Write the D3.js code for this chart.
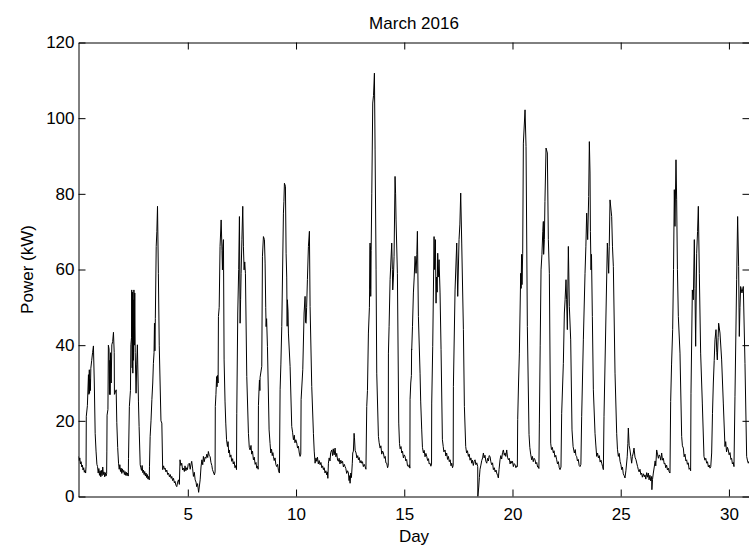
<!DOCTYPE html>
<html>
<head>
<meta charset="utf-8">
<script src="https://cdn.jsdelivr.net/npm/d3@7"></script>
<style>
  html, body { margin: 0; padding: 0; background: #fff; }
  svg { display: block; }
  text { font-family: "Liberation Sans", Arial, Helvetica, sans-serif; fill: #000; }
</style>
</head>
<body>
<svg id="chart" width="749" height="552"></svg>
<script>
// ---- Data: [day, kW] ----
const chartTitle = "March 2016";
const xLabel = "Day";
const yLabel = "Power (kW)";
const xTicks = [5, 10, 15, 20, 25, 30];
const yTicks = [0, 20, 40, 60, 80, 100, 120];
const xDomain = [-0.05, 30.95];
const yDomain = [0, 120];

const week1 = [
[-0.05,10.6],[-0.02,9.5],[0.01,10.2],[0.04,8.6],[0.07,9.2],[0.1,7.8],[0.13,8.3],[0.16,7.0],[0.19,7.6],[0.22,6.4],[0.25,6.9],[0.28,6.2],
[0.30,8],[0.31,21.2],[0.36,24],[0.41,32.2],[0.43,27],[0.45,33.5],[0.46,27.3],[0.48,31],[0.5,28],[0.52,33.9],[0.56,36],[0.6,38],[0.64,39.8],[0.68,30],[0.72,16.7],[0.76,12],[0.8,8.5],[0.83,7.9],
[0.86,6.2],[0.89,7.4],[0.92,5.6],[0.95,6.8],[0.98,5.2],[1.01,6.9],[1.04,5.5],[1.07,7.8],[1.1,5.8],[1.13,6.5],[1.16,5.2],[1.19,6.3],[1.22,5.4],[1.25,6.0],
[1.26,12],[1.27,21.5],[1.31,23],[1.33,40],[1.36,39],[1.38,27],[1.40,36],[1.41,26.9],[1.43,38],[1.46,30],[1.49,40.1],[1.53,41],[1.565,43.4],[1.6,38],[1.61,27],[1.65,27.5],[1.69,28.2],[1.72,19.5],[1.76,13],[1.8,8.8],
[1.83,7.2],[1.86,8.4],[1.89,6.6],[1.92,7.5],[1.95,6.1],[1.98,7.3],[2.01,6.4],[2.04,6.9],[2.07,5.8],[2.1,6.6],[2.13,5.6],[2.16,6.4],[2.19,5.5],[2.22,6.2],[2.25,5.4],
[2.26,10],[2.30,23.8],[2.35,28],[2.37,40.1],[2.40,42],[2.41,54.6],[2.43,34],[2.44,54],[2.46,32.6],[2.47,52],[2.49,36],[2.51,54.6],[2.53,40],[2.55,53.8],[2.57,38],[2.6,30],[2.61,27.3],[2.64,35],[2.67,40.1],[2.72,25],[2.75,18.5],[2.8,8.4],
[2.83,7.6],[2.86,6.9],[2.89,8.2],[2.92,6.3],[2.95,7.0],[2.98,5.8],[3.01,6.6],[3.04,5.4],[3.07,6.2],[3.1,5.0],[3.13,5.8],[3.16,4.6],[3.19,5.3],[3.22,4.4],
[3.23,8],[3.26,15.9],[3.3,20],[3.34,25.6],[3.38,30],[3.41,35.2],[3.44,38],[3.46,45.8],[3.48,38.5],[3.5,47],[3.54,66.1],[3.57,70],[3.6,76.7],[3.64,59],[3.68,40],[3.72,30],[3.76,20],[3.8,19.4],[3.84,7.1]
];

const weekend1 = [
[3.88,8.1],[3.92,7.2],[3.95,7.5],[3.99,6.5],[4.03,7.0],[4.07,5.8],[4.11,6.2],[4.15,5.2],[4.19,5.8],[4.23,4.8],[4.26,5.3],[4.3,4.2],[4.34,4.8],[4.38,3.6],[4.41,4.0],[4.45,3.0],[4.49,2.6],[4.53,3.8],[4.57,4.4],[4.61,3.2],[4.64,9.7],[4.68,8.2],[4.72,8.8],[4.76,7.0],[4.8,7.5],[4.84,6.6],[4.87,8.1],[4.91,6.8],[4.95,7.6],[4.98,7.1],[5.02,8.5],[5.07,8.8],[5.11,7.2],[5.15,8.6],[5.18,9.3],[5.22,7.5],[5.26,5.3],[5.3,6.4],[5.34,4.4],[5.38,3.8],[5.41,2.6],[5.45,3.4],[5.5,1.1],[5.53,2.5],[5.57,4.4],[5.61,7.8],[5.65,9.7],[5.69,8.4],[5.72,10.6],[5.76,9.2],[5.8,10.4],[5.84,10.1],[5.88,11.2],[5.92,10.3],[5.95,11.9],[5.99,10.8],[6.03,10.6],[6.07,9.0],[6.11,8.2],[6.14,7.1],[6.18,6.5],[6.23,5.7],[6.26,6.5]
];

const week2 = [
[6.27,23.8],[6.3,27],[6.33,31.7],[6.35,29],[6.37,32],[6.4,30],[6.415,47.6],[6.45,50],[6.49,66.1],[6.54,73.1],[6.58,65],[6.6,59.9],[6.62,66],[6.646,67.9],[6.677,36.1],[6.72,25],[6.754,19.4],[6.79,15],[6.831,13.2],[6.86,14.5],[6.89,11.5],[6.92,12.3],[6.95,10.4],[6.99,11],[7.03,9.3],[7.07,10],[7.1,8.6],[7.14,9.2],[7.18,7.6],[7.22,8.2],[7.25,7.1],
[7.262,22],[7.308,48.5],[7.35,60],[7.385,74],[7.416,45.8],[7.44,52],[7.462,59],[7.5,68],[7.539,76.7],[7.57,66],[7.601,59.9],[7.63,62],[7.662,59],[7.724,31.7],[7.801,16.7],[7.84,13],[7.878,12.3],[7.92,13.5],[7.95,11.2],[7.99,12],[8.03,9.7],[8.07,10.4],[8.11,8.5],[8.15,9.0],[8.186,7.5],[8.22,8.0],[8.25,7.2],
[8.263,24],[8.29,28.2],[8.31,30.8],[8.33,28],[8.34,31.5],[8.417,34.4],[8.448,63.5],[8.494,68.7],[8.54,67.9],[8.571,61.7],[8.6,50],[8.617,44.9],[8.64,47],[8.679,39.7],[8.756,17.6],[8.8,14],[8.833,11.5],[8.87,12.5],[8.9,10.8],[8.93,11.6],[8.956,10.6],[8.99,9.5],[9.03,10.2],[9.07,8.4],[9.11,7.9],[9.15,8.5],[9.19,6.8],[9.233,6.2],
[9.264,28.2],[9.3,35],[9.341,44.9],[9.418,74.9],[9.44,78],[9.464,82.8],[9.51,82],[9.541,64.3],[9.57,58],[9.59,45],[9.602,52],[9.61,51],[9.63,49],[9.649,43.2],[9.725,34.4],[9.802,18.5],[9.84,17],[9.88,15],[9.92,16.2],[9.95,14.2],[9.99,15],[10.034,14.1],[10.07,12.8],[10.11,13.3],[10.15,11.5],[10.187,10.6],[10.22,11.2],
[10.234,25.6],[10.311,33.5],[10.372,48.5],[10.418,52.9],[10.44,46],[10.465,45.8],[10.49,50],[10.526,57.3],[10.572,66.1],[10.618,70.1],[10.649,50.2],[10.726,29.1],[10.803,16.7],[10.84,12],[10.88,8.8]
];

const weekend2 = [
[10.92,10.2],[10.957,9.3],[10.99,10.4],[11.03,8.6],[11.07,9.5],[11.111,8.4],[11.15,9.0],[11.19,7.6],[11.23,8.1],[11.265,7.1],[11.3,7.6],[11.34,6.2],[11.38,6.8],[11.419,5.7],[11.45,6.5],[11.47,4.8],[11.496,8.8],[11.53,10.2],[11.57,9.4],[11.6,11.6],[11.65,12.3],[11.69,10.8],[11.72,12.6],[11.76,11.0],[11.804,12.8],[11.84,10.5],[11.88,11.4],[11.92,9.6],[11.958,9.3],[11.99,10.1],[12.03,8.6],[12.07,9.6],[12.112,8.8],[12.15,9.3],[12.19,7.8],[12.23,8.5],[12.266,7.9],[12.3,7.4],[12.34,6.1],[12.38,6.8],[12.42,6.2],[12.45,4.2],[12.47,5.5],[12.497,3.5],[12.53,6.2],[12.56,5.0],[12.6,8.8],[12.62,11.5],[12.65,12],[12.682,16.7],[12.7,15.5],[12.73,12.2],[12.774,11.5],[12.81,10.2],[12.85,10.8],[12.882,9.7],[12.92,10.3],[12.96,8.9],[13.0,9.5],[13.036,8.8],[13.07,9.2],[13.11,7.9],[13.15,8.5],[13.19,7.9],[13.23,7.2]
];

const week3 = [
[13.267,23.8],[13.3,28],[13.344,43.2],[13.39,50],[13.421,67],[13.43,55],[13.44,66],[13.451,52.9],[13.47,65],[13.5,80],[13.544,104],[13.58,106],[13.621,111.9],[13.652,91.6],[13.698,59.9],[13.729,32.6],[13.806,15.9],[13.84,14.2],[13.883,12.8],[13.92,13.4],[13.96,11.2],[14.0,12],[14.037,11.5],[14.08,10.1],[14.12,10.6],[14.15,8.9],[14.19,8.8],[14.23,7.6],[14.26,8.2],
[14.268,37.9],[14.3,45],[14.345,57.3],[14.421,67],[14.45,60],[14.468,54.6],[14.5,58],[14.529,63.5],[14.575,84.6],[14.6,80],[14.621,73.1],[14.683,59],[14.745,19.4],[14.78,14],[14.81,12.6],[14.85,13.2],[14.883,11.5],[14.92,12],[14.96,10.2],[15.0,11],[15.037,10.6],[15.07,9.4],[15.11,9.8],[15.15,8.1],[15.191,7.9],[15.23,8.4],[15.26,7.5],
[15.268,25.6],[15.3,30],[15.33,32],[15.34,39],[15.345,38.8],[15.38,45],[15.422,53.8],[15.46,58],[15.499,63.5],[15.545,59],[15.58,64],[15.607,70.1],[15.653,47.6],[15.73,32.6],[15.76,25],[15.807,17.6],[15.84,13],[15.884,11.5],[15.92,12.2],[15.96,10.5],[16.0,11.4],[16.038,10.6],[16.08,9.5],[16.12,10],[16.15,8.6],[16.192,8.8],[16.23,8.0],[16.26,8.6],
[16.269,24.7],[16.315,39.7],[16.377,68.7],[16.4,60],[16.438,67.9],[16.469,51.1],[16.49,58],[16.52,54],[16.546,64.3],[16.57,58],[16.608,62.6],[16.654,53.8],[16.7,38.8],[16.762,15],[16.8,13.2],[16.83,11.8],[16.885,12.3],[16.92,10.7],[16.96,11.5],[17.0,9.8],[17.039,10.6],[17.08,9.2],[17.12,9.7],[17.16,8.1],[17.193,8.8],[17.23,7.6],[17.26,8.2],
[17.27,29.1],[17.347,54.6],[17.424,67],[17.47,52.9],[17.531,67.9],[17.57,72],[17.608,80.2],[17.655,67],[17.732,44.1],[17.778,23.8],[17.839,13.2],[17.88,11.5],[17.92,12.1],[17.963,10.6],[18.0,11.2]
];

const weekend3 = [
[18.04,9.6],[18.08,10.2],[18.117,8.8],[18.15,9.6],[18.19,8.2],[18.23,9.3],[18.271,9.7],[18.31,8.4],[18.35,8.9],[18.394,7.9],[18.40,0],[18.44,2.5],[18.47,5.0],[18.5,7.2],[18.54,8.3],[18.58,9.5],[18.62,10.2],[18.656,11.5],[18.69,10.2],[18.73,10.9],[18.77,9.3],[18.809,8.8],[18.85,10.1],[18.89,9.4],[18.92,10.8],[18.963,10.6],[19.0,9.2],[19.04,8.4],[19.08,8.9],[19.117,7.1],[19.16,7.6],[19.2,6.5],[19.24,7.0],[19.271,6.2],[19.31,5.6],[19.348,4.9],[19.38,7.2],[19.425,9.7],[19.46,10.8],[19.5,9.9],[19.54,11.6],[19.579,12.3],[19.62,10.9],[19.656,11.5],[19.69,10.6],[19.733,12.3],[19.77,10.4],[19.81,9.7],[19.85,10.1],[19.89,8.6],[19.93,9.4],[19.964,8.8],[20.0,9.3],[20.04,7.9],[20.08,8.7],[20.118,8.4],[20.16,7.6],[20.19,8.1],[20.225,7.9]
];

const week4 = [
[20.241,20.3],[20.28,30],[20.318,37.9],[20.379,59],[20.4,55],[20.42,64],[20.44,56],[20.472,64.3],[20.503,93.4],[20.58,102.2],[20.626,92.5],[20.687,44.9],[20.764,16.4],[20.8,13],[20.84,11.2],[20.887,9.7],[20.92,10.6],[20.96,9.2],[21.0,10.1],[21.041,9.7],[21.08,8.6],[21.12,9.0],[21.16,7.8],[21.195,7.9],[21.22,7.4],
[21.242,19.4],[21.28,40],[21.319,59.9],[21.36,64],[21.4,70],[21.426,72.7],[21.44,64],[21.473,67.9],[21.5,78],[21.55,92.1],[21.611,90.8],[21.657,67.9],[21.703,59],[21.765,14.1],[21.8,12.4],[21.84,13],[21.888,11.5],[21.92,12.1],[21.96,10.4],[22.0,10.9],[22.042,9.7],[22.08,8.6],[22.12,9.2],[22.16,7.6],[22.196,7.1],[22.24,7.8],
[22.273,22],[22.35,35.2],[22.396,48.5],[22.43,52],[22.473,57.3],[22.5,52],[22.535,44.1],[22.581,66.1],[22.627,50.2],[22.689,41.4],[22.75,17.6],[22.8,13.2],[22.858,11.5],[22.9,12.4],[22.93,10.8],[22.966,10.6],[23.0,9.4],[23.04,9.8],[23.08,8.2],[23.12,7.9],[23.16,8.5],
[23.197,21.2],[23.274,41.4],[23.351,59],[23.39,66],[23.428,74.9],[23.474,67.9],[23.52,79.3],[23.551,93.8],[23.582,85.5],[23.6,70],[23.628,59.9],[23.65,64],[23.69,47.6],[23.736,28.2],[23.813,16.7],[23.85,13.6],[23.89,10.6],[23.93,11.5],[23.97,10.2],[24.01,10.8],[24.05,9.1],[24.09,9.6],[24.121,8.8],[24.16,8.0],[24.198,7.1],
[24.228,21.2],[24.321,48.5],[24.383,67],[24.444,59],[24.47,66],[24.506,78.4],[24.583,74],[24.62,66],[24.66,60.8],[24.737,32.6],[24.814,16.7],[24.85,12.5],[24.891,10.6],[24.93,11.4],[24.97,9.3],[25.01,8.4],[25.045,7.1],[25.08,7.8],[25.12,6.0],[25.16,5.5],[25.198,4.9],[25.24,6.8]
];

const weekend4 = [
[25.3,10.5],[25.33,14],[25.352,18.1],[25.39,13.5],[25.429,12.3],[25.47,10.5],[25.506,8.8],[25.54,10.6],[25.58,11.5],[25.614,12.8],[25.66,10.4],[25.707,9.7],[25.75,8.6],[25.78,7.9],[25.814,7.1],[25.85,6.5],[25.89,7.2],[25.93,5.8],[25.968,6.2],[26.0,5.1],[26.05,6.0],[26.09,5.2],[26.122,5.7],[26.16,4.6],[26.2,6.3],[26.24,5.1],[26.276,6.2],[26.31,4.4],[26.35,5.6],[26.39,4.1],[26.43,5.3],[26.44,1.8],[26.47,4.5],[26.507,6.2],[26.55,7.8],[26.59,9.4],[26.62,8.1],[26.661,12.3],[26.7,11.2],[26.74,10.1],[26.78,11.0],[26.815,10.6],[26.85,9.6],[26.892,11.5],[26.93,9.6],[26.97,10.1],[27.01,8.6],[27.046,8.8],[27.08,7.6],[27.12,8.3],[27.16,7.0],[27.2,7.5],[27.24,6.5],[27.277,6.2]
];

const week5 = [
[27.308,25.1],[27.35,35],[27.4,44.1],[27.44,60],[27.477,81.1],[27.508,71.4],[27.554,89],[27.585,78.4],[27.62,60],[27.662,47.6],[27.739,37.9],[27.816,15.9],[27.85,13.4],[27.893,12.8],[27.93,10.5],[27.97,11.2],[28.01,9.4],[28.047,9.7],[28.08,8.5],[28.12,8.9],[28.16,7.2],[28.201,7.5],[28.23,6.8],
[28.247,27.3],[28.309,54.6],[28.355,52],[28.401,67.9],[28.43,55],[28.463,39.7],[28.509,64.3],[28.55,70],[28.586,76.7],[28.632,59],[28.693,37.9],[28.77,24.7],[28.847,10.6],[28.89,9.6],[28.93,10.1],[28.97,8.8],[29.01,9.2],[29.05,7.8],[29.09,8.3],[29.125,7.5],[29.16,7.9],
[29.202,11.5],[29.24,22],[29.279,30],[29.32,36],[29.356,41.4],[29.402,44.1],[29.44,38],[29.463,36.1],[29.5,42],[29.525,45.8],[29.587,43.2],[29.663,36.1],[29.74,24.7],[29.817,13.2],[29.85,14.5],[29.89,11.8],[29.93,13.0],[29.971,12.3],[30.01,11.0],[30.05,11.6],[30.09,9.8],[30.125,10.1],[30.16,8.6],[30.2,9.0],[30.233,7.9],
[30.279,26.5],[30.356,57.3],[30.402,74],[30.448,60.8],[30.479,42.3],[30.51,50],[30.541,55.5],[30.602,53.8],[30.664,55.5],[30.741,35.2],[30.818,10.6],[30.86,9.4],[30.895,8.8],[30.95,9.5]
];

const series = [].concat(week1, weekend1, week2, weekend2, week3, weekend3, week4, weekend4, week5);

// ---- Layout ----
const svg = d3.select("#chart");
const L = 78.5, R = 749.5, T = 42.5, B = 496.5;
const FS = 17;

const x = d3.scaleLinear().domain(xDomain).range([L, R]);
const y = d3.scaleLinear().domain(yDomain).range([B, T]);

svg.append("defs").append("clipPath").attr("id", "clip")
  .append("rect").attr("x", L).attr("y", T).attr("width", R - L).attr("height", B - T);

// data line
const line = d3.line().x(d => x(d[0])).y(d => y(d[1]));
svg.append("path")
  .datum(series)
  .attr("clip-path", "url(#clip)")
  .attr("fill", "none")
  .attr("stroke", "#000")
  .attr("stroke-width", 1)
  .attr("stroke-linejoin", "round")
  .attr("d", line);

function styleAxis(g) {
  g.selectAll("path.domain").attr("stroke", "#000").attr("stroke-width", 1);
  g.selectAll(".tick line").attr("stroke", "#000").attr("stroke-width", 1);
  g.selectAll("text").attr("font-size", FS).attr("font-family", '"Liberation Sans", Arial, sans-serif').attr("fill", "#000");
}

// bottom
svg.append("g").attr("transform", `translate(0,${B})`)
  .call(d3.axisBottom(x).tickValues(xTicks).tickFormat(d3.format("d")).tickSizeInner(-7).tickSizeOuter(0).tickPadding(11))
  .call(styleAxis);
// top
svg.append("g").attr("transform", `translate(0,${T})`)
  .call(d3.axisTop(x).tickValues(xTicks).tickFormat("").tickSizeInner(-7).tickSizeOuter(0))
  .call(styleAxis);
// left
svg.append("g").attr("transform", `translate(${L},0)`)
  .call(d3.axisLeft(y).tickValues(yTicks).tickFormat(d3.format("d")).tickSizeInner(-7).tickSizeOuter(0).tickPadding(4))
  .call(styleAxis);
// right
svg.append("g").attr("transform", `translate(${R},0)`)
  .call(d3.axisRight(y).tickValues(yTicks).tickFormat("").tickSizeInner(-7).tickSizeOuter(0))
  .call(styleAxis);

svg.selectAll("g text").attr("font-size", FS);

// title & labels
svg.append("text").attr("x", (L + R) / 2).attr("y", 28.5)
  .attr("text-anchor", "middle").attr("font-size", FS).text(chartTitle);
svg.append("text").attr("x", (L + R) / 2).attr("y", 541.5)
  .attr("text-anchor", "middle").attr("font-size", FS).text(xLabel);
svg.append("text").attr("transform", `translate(33,${(T + B) / 2}) rotate(-90)`)
  .attr("text-anchor", "middle").attr("font-size", FS).text(yLabel);
</script>
</body>
</html>
